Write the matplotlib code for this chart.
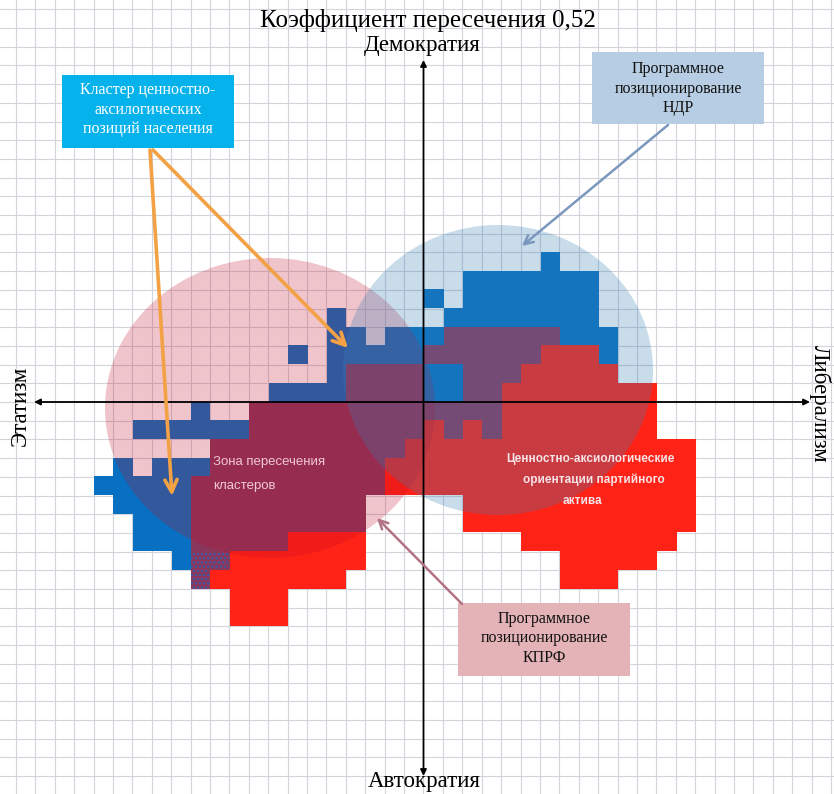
import matplotlib
matplotlib.use("Agg")
import matplotlib.pyplot as plt
import numpy as np
from matplotlib.patches import Rectangle, Ellipse
from matplotlib.colors import to_rgba

# ---------------- data ----------------
# cell map: rows from top (row 7) to bottom (row -12), columns -17 .. 13
# B = population cluster, R = party activists, M = overlap, D = dithered overlap
col_start = -17
row_top = 7
cells = [
    ".......................B.......",   # 7
    "...................BBBBBBB.....",   # 6
    ".................B.BBBBBBB.....",   # 5
    "............B.....BBBBBBBB.....",   # 4
    "............BB.BBBMMMMMMBBB....",   # 3
    "..........B.BBBBBMMMMMMRRRB....",   # 2
    "............BMMMMBBMMMRRRRR....",   # 1
    ".........BBBBMMMMBBMMRRRRRRRR..",   # 0
    ".....B..MMMMMMMMMMMMMRRRRRRRR..",   # -1
    "..BBBBBBMMMMMMMMMRMRMRRRRRRRR..",   # -2
    "......MMMMMMMMMMRRRRRRRRRRRRRRR",   # -3
    ".B.BBBMMMMMMMMMRRRRRRRRRRRRRRRR",   # -4
    "BBBBBMMMMMMMMMMRRRRRRRRRRRRRRRR",   # -5
    ".BBBBMMMMMMMMM.....RRRRRRRRRRRR",   # -6
    "..BBBMMMMMMMMM.....RRRRRRRRRRRR",   # -7
    "..BBBMMMMMRRRR........RRRRRRRR.",   # -8
    "....BDDRRRRRRR..........RRRRR..",   # -9
    ".....DRRRRRRR...........RRR....",   # -10
    ".......RRR.....................",   # -11
    ".......RRR.....................",   # -12
]

title = "Коэффициент пересечения 0,52"
axis_top, axis_bottom = "Демократия", "Автократия"
axis_left, axis_right = "Этатизм", "Либерализм"
box_population = ["Кластер ценностно-", "аксилогических", "позиций населения"]
box_ndr = ["Программное", "позиционирование", "НДР"]
box_kprf = ["Программное", "позиционирование", "КПРФ"]
label_zone = ["Зона пересечения", "кластеров"]
label_activ = ["Ценностно-аксиологические", "ориентации партийного", "актива"]

# ---------------- layout ----------------
W, H = 834, 794
X0, Y0, CW, CH = 423.5, 402.0, 19.4, 18.7


def d(px, py):
    return ((px - X0) / CW, (Y0 - py) / CH)


def f(px, py):
    return (px / W, 1 - py / H)


fig = plt.figure(figsize=(W / 100, H / 100), dpi=100)
ax = fig.add_axes([0, 0, 1, 1])
ax.set_xlim((0 - X0) / CW, (W - X0) / CW)
ax.set_ylim((Y0 - H) / CH, Y0 / CH)
ax.set_xticks(range(-21, 22))
ax.set_yticks(range(-20, 22))
ax.tick_params(length=0, labelbottom=False, labelleft=False)
for s in ax.spines.values():
    s.set_visible(False)
ax.set_axisbelow(True)
ax.grid(True, color="#D4D4DC", lw=0.8)

colors = {"B": "#0870C2", "R": "#FF2216", "M": "#8A375D", "D": "#8A375D", ".": (0, 0, 0, 0)}
nrows, ncols = len(cells), len(cells[0])
img = np.array([[to_rgba(colors[ch]) for ch in row] for row in cells])
ax.imshow(img, extent=(col_start, col_start + ncols, row_top + 1 - nrows, row_top + 1),
          origin="upper", interpolation="nearest", aspect="auto", zorder=2)
for k, row in enumerate(cells):
    for i, ch in enumerate(row):
        if ch == "D":
            ax.add_patch(Rectangle((col_start + i, row_top - k), 1, 1, fill=False,
                                   edgecolor="#3060B0", hatch="....", lw=0, zorder=2.5))

# highlight ellipses (programme positioning)
ax.add_patch(Ellipse(d(270, 408), 2 * 165 / CW, 2 * 150 / CH,
                     facecolor=(0.753, 0.047, 0.145, 0.24), lw=0, zorder=3))
ax.add_patch(Ellipse(d(498, 370), 2 * 155 / CW, 2 * 145 / CH,
                     facecolor=(0.216, 0.502, 0.714, 0.274), lw=0, zorder=3))

# axes arrows
ap = dict(arrowstyle="<|-|>", color="black", lw=1.3, mutation_scale=9, shrinkA=0, shrinkB=0)
ax.annotate("", xy=(0, d(0, 60)[1]), xytext=(0, d(0, 776)[1]), arrowprops=ap, zorder=6)
ax.annotate("", xy=(d(810, 0)[0], 0), xytext=(d(34, 0)[0], 0), arrowprops=ap, zorder=6)

serif = "Liberation Serif"
sans = "Liberation Sans"
ax.text(*f(428, 20), title, transform=ax.transAxes, ha="center", va="center",
        fontsize=18, family=serif, zorder=7)
ax.text(*f(422, 46), axis_top, transform=ax.transAxes, ha="center", va="center",
        fontsize=16.5, family=serif, zorder=7)
ax.text(*f(424, 781), axis_bottom, transform=ax.transAxes, ha="center", va="center",
        fontsize=16.5, family=serif, zorder=7)
ax.text(*f(20, 406), axis_left, transform=ax.transAxes, ha="center", va="center",
        rotation=90, fontsize=16.5, family=serif, zorder=7)
ax.text(*f(820, 404), axis_right, transform=ax.transAxes, ha="center", va="center",
        rotation=-90, fontsize=16.5, family=serif, zorder=7)


# boxes
def box(x0, y0, x1, y1, color, lines, tcolor, ys, cx):
    fx0, fy1 = f(x0, y0)
    fx1, fy0 = f(x1, y1)
    ax.add_patch(Rectangle((fx0, fy0), fx1 - fx0, fy1 - fy0, transform=ax.transAxes,
                           facecolor=color, lw=0, zorder=7))
    for t, y in zip(lines, ys):
        ax.text(*f(cx, y), t, transform=ax.transAxes, ha="center", va="center",
                fontsize=11.5, family=serif, color=tcolor, zorder=8)


box(62, 75, 234, 148, "#05B2EC", box_population, "white", [90, 110, 129], 148)
box(592, 52, 764, 124, "#B6CDE3", box_ndr, "#111111", [69, 89, 108], 678)
box(458, 603, 630, 676, "#E4B3B7", box_kprf, "#111111", [619, 638, 658], 544)

# inner labels
for t, y in zip(label_zone, [462, 486]):
    ax.text(*f(213, y), t, transform=ax.transAxes, ha="left", va="center",
            fontsize=9.5, family=sans, color="#F0C8D4", zorder=8)
for t, x, y in zip(label_activ, [590, 594, 582], [459, 480, 501]):
    ax.text(*f(x, y), t, transform=ax.transAxes, ha="center", va="center",
            fontsize=8.5, family=sans, color="#F6E4E8", fontweight="bold", zorder=8)


# pointer arrows
def arrow(p0, p1, color, lw, ms):
    ax.annotate("", xy=d(*p1), xytext=d(*p0),
                arrowprops=dict(arrowstyle="->", color=color, lw=lw, mutation_scale=ms,
                                shrinkA=0, shrinkB=0), zorder=9)


arrow((150, 150), (172, 496), "#F3A145", 2.6, 22)
arrow((153, 150), (348, 348), "#F3A145", 2.6, 22)
arrow((668, 125), (522, 246), "#7C97BE", 1.8, 16)
arrow((462, 604), (377, 518), "#B27382", 1.8, 16)

fig.savefig("out.png", dpi=100)
